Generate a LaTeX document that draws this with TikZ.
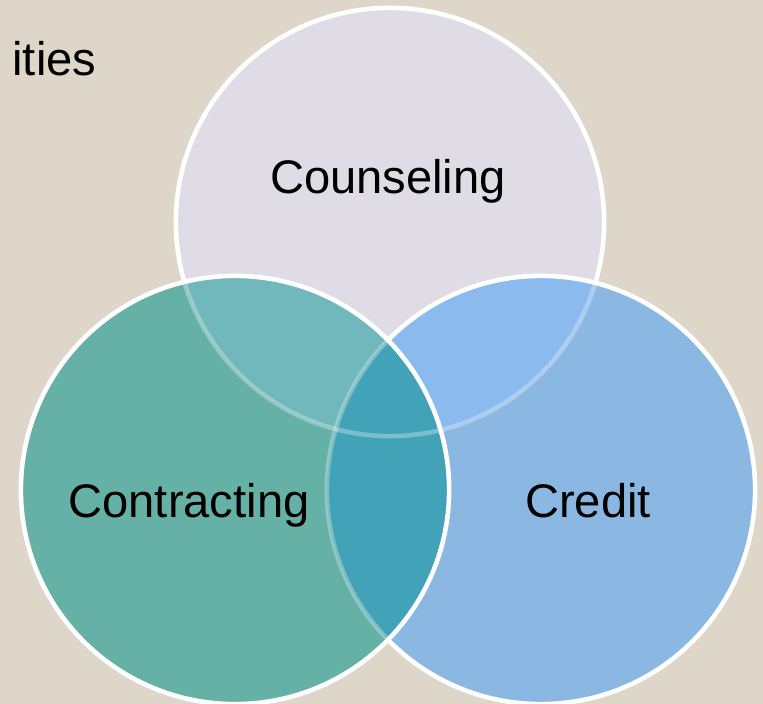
\documentclass[tikz,border=0pt]{standalone}
\usepackage{fontspec}
\setmainfont{Liberation Sans}
\definecolor{paper}{RGB}{222,214,200}
\definecolor{lavender}{RGB}{224,220,230}
\definecolor{tealfill}{RGB}{102,177,166}
\definecolor{skyfill}{RGB}{138,184,226}
\definecolor{tealtop}{RGB}{112,184,188}
\definecolor{skytop}{RGB}{138,186,238}
\definecolor{lensfill}{RGB}{66,162,183}
\begin{document}
\begin{tikzpicture}[x=0.01cm, y=-0.01cm,
    rim/.style={draw=white, line width=1.3pt},
    faintrim/.style={draw=white, draw opacity=0.3, line width=1.3pt},
    label/.style={font=\fontsize{13.4}{16}\selectfont, inner sep=0pt}]
    \def\r{2.14cm}
    % background paper
    \fill[paper] (0,0) rectangle (763,704);
    \useasboundingbox (0,0) rectangle (763,704);
    \coordinate (top) at (390,222);
    \coordinate (left) at (235,490);
    \coordinate (right) at (541,490);

    % Draw the counseling circle
    \fill[lavender] (top) circle (\r);
    \draw[rim] (top) circle (\r);

    % Draw the credit circle
    \fill[skyfill] (right) circle (\r);
    \begin{scope}
        \clip (right) circle (\r);
        \fill[skytop] (top) circle (\r);
        \draw[faintrim] (top) circle (\r);
    \end{scope}
    \draw[rim] (right) circle (\r);

    % Draw the contracting circle
    \fill[tealfill] (left) circle (\r);
    \begin{scope}
        \clip (left) circle (\r);
        \fill[tealtop] (top) circle (\r);
        \fill[lensfill] (right) circle (\r);
        \draw[faintrim] (top) circle (\r);
        \draw[faintrim] (right) circle (\r);
    \end{scope}
    \draw[rim] (left) circle (\r);

    % Draw labels
    \node[label, anchor=base] (counseling) at (388,194) {Counseling};
    \node[label, anchor=base] (contracting) at (189,518) {Contracting};
    \node[label, anchor=base] (credit) at (588,518) {Credit};
    \node[label, anchor=base east] (ities) at (97,76) {ities};
\end{tikzpicture}
\end{document}
